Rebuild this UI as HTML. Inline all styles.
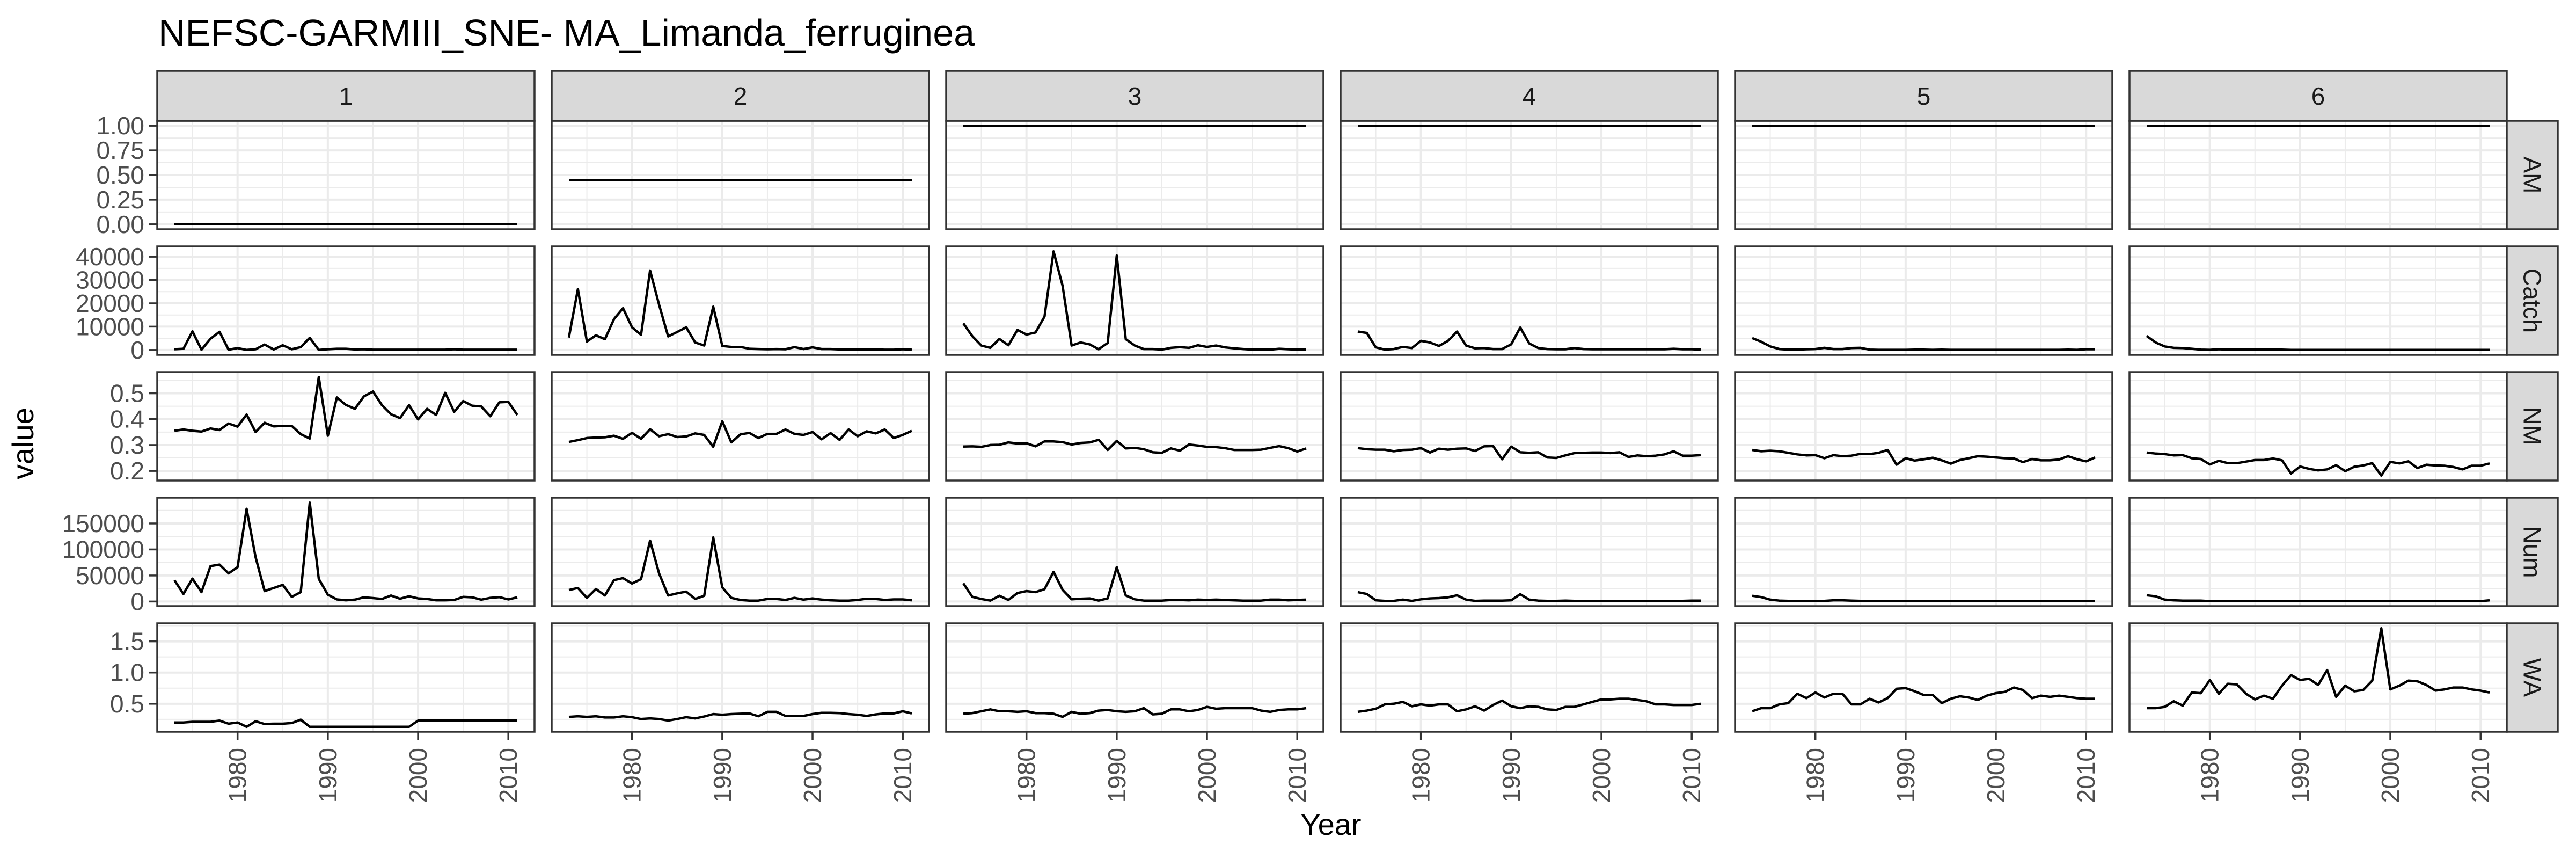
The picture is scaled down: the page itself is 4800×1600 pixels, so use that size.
<!DOCTYPE html>
<html><head><meta charset="utf-8">
<style>
html,body{margin:0;padding:0;background:#fff;}
svg{display:block;font-family:"Liberation Sans",Arial,sans-serif;}
</style></head>
<body>
<svg id="chart" xmlns="http://www.w3.org/2000/svg" width="4800" height="1600" viewBox="0 0 4800 1600">
<rect x="0" y="0" width="4800" height="1600" fill="#fff"/>
<text x="295" y="85" font-size="70" fill="#000">NEFSC-GARMIII_SNE- MA_Limanda_ferruginea</text>
<text x="2480" y="1555" font-size="56" fill="#000" text-anchor="middle">Year</text>
<text transform="translate(62,826) rotate(-90)" font-size="56" fill="#000" text-anchor="middle">value</text>
<g id="plot"></g>
</svg>
<script>
const firstYear = 1973;
const lastYear = 2011;
const colLabels = ["1","2","3","4","5","6"];
const rowLabels = ["AM","Catch","NM","Num","WA"];

const amValues = [0, 0.447, 1, 1, 1, 1];

const catchC1 = [300,500,8000,100,4800,7800,100,800,0,300,2300,200,2000,300,1200,5200,0,300,500,500,200,300,100,100,100,100,100,100,100,100,100,300,100,100,100,100,100,100,100];
const catchC2 = [5300,26100,3600,6300,4600,13200,17900,9700,6500,34100,19400,5800,7700,9700,3200,1900,18600,1700,1300,1300,500,400,300,400,300,1200,400,1100,400,400,200,200,200,200,200,100,100,300,100];
const catchC3 = [11400,5900,1900,900,4700,2000,8600,6600,7500,14300,42300,27500,1900,3200,2400,300,3000,40500,4600,1900,400,400,150,900,1200,900,2000,1300,1900,1100,700,400,150,150,150,500,300,150,150];
const catchC4 = [7900,7300,1100,150,400,1300,800,3900,3200,1700,3900,7900,1900,700,800,400,400,2400,9600,2800,800,400,300,300,800,400,300,300,300,300,300,300,300,300,300,500,300,300,150];
const catchC5 = [5100,3500,1500,400,150,150,300,400,900,400,400,800,900,150,50,50,50,50,150,150,50,150,50,50,50,50,50,50,50,50,50,50,50,50,50,150,50,300,300];
const catchC6 = [6000,3200,1500,900,800,500,150,50,300,150,150,150,150,150,150,150,0,0,0,0,0,0,0,0,0,0,0,0,0,0,0,0,0,0,0,0,0,0,0];

const nmC1 = [0.355,0.36,0.355,0.352,0.364,0.358,0.383,0.371,0.418,0.35,0.386,0.372,0.374,0.374,0.342,0.325,0.563,0.336,0.484,0.455,0.44,0.488,0.507,0.454,0.419,0.404,0.454,0.399,0.44,0.416,0.502,0.428,0.47,0.452,0.449,0.411,0.465,0.467,0.416];
const nmC2 = [0.312,0.319,0.327,0.329,0.33,0.336,0.324,0.347,0.324,0.361,0.334,0.342,0.331,0.333,0.345,0.339,0.293,0.392,0.31,0.341,0.347,0.327,0.343,0.343,0.36,0.343,0.339,0.35,0.322,0.346,0.32,0.36,0.334,0.353,0.345,0.36,0.327,0.339,0.355];
const nmC3 = [0.294,0.295,0.293,0.3,0.301,0.31,0.306,0.307,0.295,0.314,0.314,0.311,0.302,0.308,0.31,0.32,0.281,0.316,0.287,0.289,0.284,0.272,0.27,0.287,0.278,0.302,0.298,0.293,0.292,0.288,0.281,0.281,0.281,0.282,0.289,0.296,0.288,0.275,0.287];
const nmC4 = [0.288,0.284,0.282,0.282,0.276,0.281,0.282,0.288,0.271,0.286,0.282,0.286,0.287,0.277,0.295,0.296,0.245,0.294,0.272,0.27,0.272,0.252,0.25,0.26,0.269,0.27,0.271,0.271,0.269,0.272,0.254,0.26,0.257,0.259,0.264,0.276,0.259,0.259,0.261];
const nmC5 = [0.281,0.276,0.278,0.276,0.27,0.264,0.26,0.261,0.249,0.261,0.257,0.259,0.266,0.265,0.27,0.281,0.224,0.249,0.24,0.245,0.251,0.241,0.228,0.242,0.249,0.257,0.255,0.252,0.249,0.248,0.234,0.246,0.241,0.241,0.244,0.257,0.245,0.237,0.252];
const nmC6 = [0.271,0.267,0.265,0.26,0.261,0.249,0.246,0.225,0.239,0.23,0.23,0.236,0.242,0.242,0.248,0.241,0.19,0.217,0.208,0.202,0.206,0.222,0.199,0.216,0.221,0.23,0.182,0.235,0.229,0.237,0.211,0.224,0.221,0.22,0.215,0.206,0.22,0.22,0.229];

const numC1 = [41000,14500,44000,18000,68000,71000,54000,66000,178000,85000,20000,26000,32000,9000,18000,190000,43500,13000,4000,2400,3600,8000,6600,5000,11500,5400,10000,6000,5000,2400,2400,3000,9000,8000,3600,7000,8500,4000,8000];
const numC2 = [22000,26000,7000,24000,11500,41000,45000,34500,43000,117000,54000,11500,15700,19000,5000,11000,123000,27000,7000,3000,1800,1800,5000,5000,3000,7000,3600,6000,3600,2400,1800,1800,3000,5400,5000,3000,4000,4000,2400];
const numC3 = [35000,9000,4800,1800,11000,3000,16300,20000,18000,23600,57000,22400,4200,5400,6000,1800,6000,66000,11500,4200,1800,1800,1800,3000,3000,2400,3600,3000,3600,3000,2400,1800,1800,1800,3600,3600,2400,3000,3600];
const numC4 = [18000,14500,2400,1200,1200,3600,1200,4200,6000,6600,8000,12000,3600,1200,1800,1800,1800,2400,14000,3600,1800,1200,1200,1800,1200,1200,1200,1200,1200,1200,1200,1200,1200,1200,1200,1200,1200,1800,1800];
const numC5 = [11000,8500,3600,1800,1200,1200,600,600,1200,2400,2400,1800,1200,1200,1200,1200,600,600,600,600,600,600,600,600,600,600,600,600,600,600,600,600,600,600,600,600,600,1200,1200];
const numC6 = [12000,10000,3600,2400,1800,1800,1800,600,1200,1200,1200,1200,1200,600,600,600,600,600,600,600,600,600,600,600,600,600,600,600,600,600,600,600,600,600,600,600,600,600,2400];

const waC1 = [0.2,0.2,0.21,0.21,0.21,0.23,0.18,0.2,0.13,0.22,0.175,0.18,0.18,0.19,0.245,0.13,0.13,0.13,0.13,0.13,0.13,0.13,0.13,0.13,0.13,0.13,0.13,0.23,0.23,0.23,0.23,0.23,0.23,0.23,0.23,0.23,0.23,0.23,0.23];
const waC2 = [0.29,0.3,0.29,0.3,0.28,0.28,0.3,0.285,0.255,0.265,0.255,0.23,0.255,0.285,0.265,0.295,0.335,0.325,0.335,0.34,0.345,0.3,0.37,0.37,0.305,0.305,0.305,0.335,0.355,0.355,0.35,0.335,0.325,0.305,0.33,0.345,0.345,0.38,0.345];
const waC3 = [0.34,0.35,0.38,0.41,0.38,0.38,0.37,0.38,0.35,0.35,0.34,0.29,0.37,0.34,0.35,0.39,0.4,0.38,0.37,0.38,0.43,0.33,0.34,0.41,0.41,0.38,0.4,0.45,0.42,0.43,0.43,0.43,0.43,0.39,0.37,0.4,0.41,0.41,0.43];
const waC4 = [0.37,0.39,0.42,0.49,0.5,0.53,0.46,0.49,0.47,0.49,0.49,0.38,0.41,0.46,0.39,0.48,0.55,0.46,0.43,0.46,0.45,0.41,0.4,0.45,0.45,0.49,0.53,0.57,0.57,0.58,0.58,0.56,0.54,0.49,0.49,0.48,0.48,0.48,0.5];
const waC5 = [0.38,0.43,0.43,0.49,0.51,0.66,0.59,0.68,0.6,0.66,0.66,0.49,0.49,0.58,0.52,0.59,0.74,0.75,0.7,0.64,0.64,0.51,0.58,0.62,0.6,0.56,0.63,0.67,0.69,0.76,0.72,0.59,0.63,0.61,0.63,0.61,0.59,0.58,0.58];
const waC6 = [0.43,0.43,0.45,0.54,0.47,0.68,0.67,0.88,0.66,0.82,0.81,0.66,0.57,0.63,0.58,0.79,0.96,0.88,0.9,0.8,1.04,0.61,0.79,0.7,0.72,0.87,1.71,0.73,0.79,0.87,0.86,0.8,0.71,0.73,0.76,0.76,0.73,0.71,0.68];

const xTicks = [1980,1990,2000,2010];
const xMinor = [1975,1985,1995,2005];
const amTicks = [0,0.25,0.5,0.75,1];
const amTickLabels = ["0.00","0.25","0.50","0.75","1.00"];
const catchTicks = [0,10000,20000,30000,40000];
const catchTickLabels = ["0","10000","20000","30000","40000"];
const nmTicks = [0.2,0.3,0.4,0.5];
const nmTickLabels = ["0.2","0.3","0.4","0.5"];
const numTicks = [0,50000,100000,150000];
const numTickLabels = ["0","50000","100000","150000"];
const waTicks = [0.5,1.0,1.5];
const waTickLabels = ["0.5","1.0","1.5"];

(function(){
  const NS = "http://www.w3.org/2000/svg";
  const g = document.getElementById("plot");
  const years = [];
  for (let y = firstYear; y <= lastYear; y++) years.push(y);
  const ncol = colLabels.length;
  const amSeries = amValues.map(v => years.map(() => v));
  const rows = [
    {series: amSeries, ticks: amTicks, labels: amTickLabels},
    {series: [catchC1,catchC2,catchC3,catchC4,catchC5,catchC6], ticks: catchTicks, labels: catchTickLabels},
    {series: [nmC1,nmC2,nmC3,nmC4,nmC5,nmC6], ticks: nmTicks, labels: nmTickLabels},
    {series: [numC1,numC2,numC3,numC4,numC5,numC6], ticks: numTicks, labels: numTickLabels},
    {series: [waC1,waC2,waC3,waC4,waC5,waC6], ticks: waTicks, labels: waTickLabels}
  ];
  const PL = 293, PW = 703, PSTEP = 735;
  const PT = 225, PH = 202, RSTEP = 234;
  const xr = (lastYear - firstYear) * 0.05;
  const x0 = firstYear - xr, x1 = lastYear + xr;
  function el(tag, attrs, parent){
    const e = document.createElementNS(NS, tag);
    for (const k in attrs) e.setAttribute(k, attrs[k]);
    (parent || g).appendChild(e);
    return e;
  }
  function xs(c, yr){ return PL + c*PSTEP + (yr - x0)/(x1 - x0)*PW; }

  rows.forEach((row, r) => {
    let mn = Infinity, mx = -Infinity;
    row.series.forEach(s => s.forEach(v => { if (v < mn) mn = v; if (v > mx) mx = v; }));
    let R = mx - mn; if (R === 0) R = 1;
    const lo = mn - 0.05*R, hi = mx + 0.05*R;
    const top = PT + r*RSTEP;
    const ys = v => top + PH - (v - lo)/(hi - lo)*PH;
    const step = row.ticks[1] - row.ticks[0];
    const minors = [];
    for (let v = row.ticks[0] - step/2; v <= hi; v += step) if (v >= lo) minors.push(v);

    for (let c = 0; c < ncol; c++) {
      const left = PL + c*PSTEP;
      const pg = el("g", {});
      
      
      el("rect", {x:left, y:top, width:PW, height:PH, fill:"#fff"}, pg);
      minors.forEach(v => {
        const e = el("line", {x1:left, x2:left+PW, y1:ys(v), y2:ys(v), stroke:"#ebebeb", "stroke-width":2}, pg);
        
        
      });
      xMinor.forEach(yr => {
        const e = el("line", {x1:xs(c,yr), x2:xs(c,yr), y1:top, y2:top+PH, stroke:"#ebebeb", "stroke-width":2}, pg);
        
        
      });
      row.ticks.forEach(v => {
        const e = el("line", {x1:left, x2:left+PW, y1:ys(v), y2:ys(v), stroke:"#ebebeb", "stroke-width":4}, pg);
        
        
      });
      xTicks.forEach(yr => {
        const e = el("line", {x1:xs(c,yr), x2:xs(c,yr), y1:top, y2:top+PH, stroke:"#ebebeb", "stroke-width":4}, pg);
        
        
      });
      const s = row.series[c];
      const pts = s.map((v,i) => xs(c, years[i]).toFixed(1) + "," + ys(v).toFixed(1)).join(" ");
      const line = el("polyline", {points:pts, fill:"none", stroke:"#000", "stroke-width":4.5, "stroke-linejoin":"round"}, pg);
      
      
      el("rect", {x:left, y:top, width:PW, height:PH, fill:"none", stroke:"#333", "stroke-width":3.5}, pg);

      if (r === 0) {
        const st = el("rect", {x:left, y:132, width:PW, height:93, fill:"#d9d9d9", stroke:"#333", "stroke-width":3.5});
        
        
        const tx = el("text", {x:left+PW/2, y:195, "font-size":46, fill:"#1a1a1a", "text-anchor":"middle"});
        tx.textContent = colLabels[c];
        
        
      }
      if (r === rows.length - 1) {
        xTicks.forEach(yr => {
          const t = el("line", {x1:xs(c,yr), x2:xs(c,yr), y1:top+PH, y2:top+PH+16, stroke:"#333", "stroke-width":3.5});
          
          
          const lb = el("text", {transform:"translate(" + (xs(c,yr)+16).toFixed(1) + "," + (top+PH+30) + ") rotate(-90)", "font-size":46, fill:"#4d4d4d", "text-anchor":"end"});
          lb.textContent = String(yr);
          
          
        });
      }
    }
    // right strip
    const rs = el("rect", {x:PL+(ncol-1)*PSTEP+PW, y:top, width:95, height:PH, fill:"#d9d9d9", stroke:"#333", "stroke-width":3.5});
    
    
    const rx = PL+(ncol-1)*PSTEP+PW+47.5;
    const rt = el("text", {transform:"translate(" + (rx-16) + "," + (top+PH/2) + ") rotate(90)", "font-size":46, fill:"#1a1a1a", "text-anchor":"middle"});
    rt.textContent = rowLabels[r];
    
    
    // y ticks
    row.ticks.forEach((v,i) => {
      const t = el("line", {x1:PL-16, x2:PL, y1:ys(v), y2:ys(v), stroke:"#333", "stroke-width":3.5});
      
      
      const lb = el("text", {x:PL-24, y:ys(v)+16, "font-size":46, fill:"#4d4d4d", "text-anchor":"end"});
      lb.textContent = row.labels[i];
      
      
    });
  });
})();
</script>
</body></html>
